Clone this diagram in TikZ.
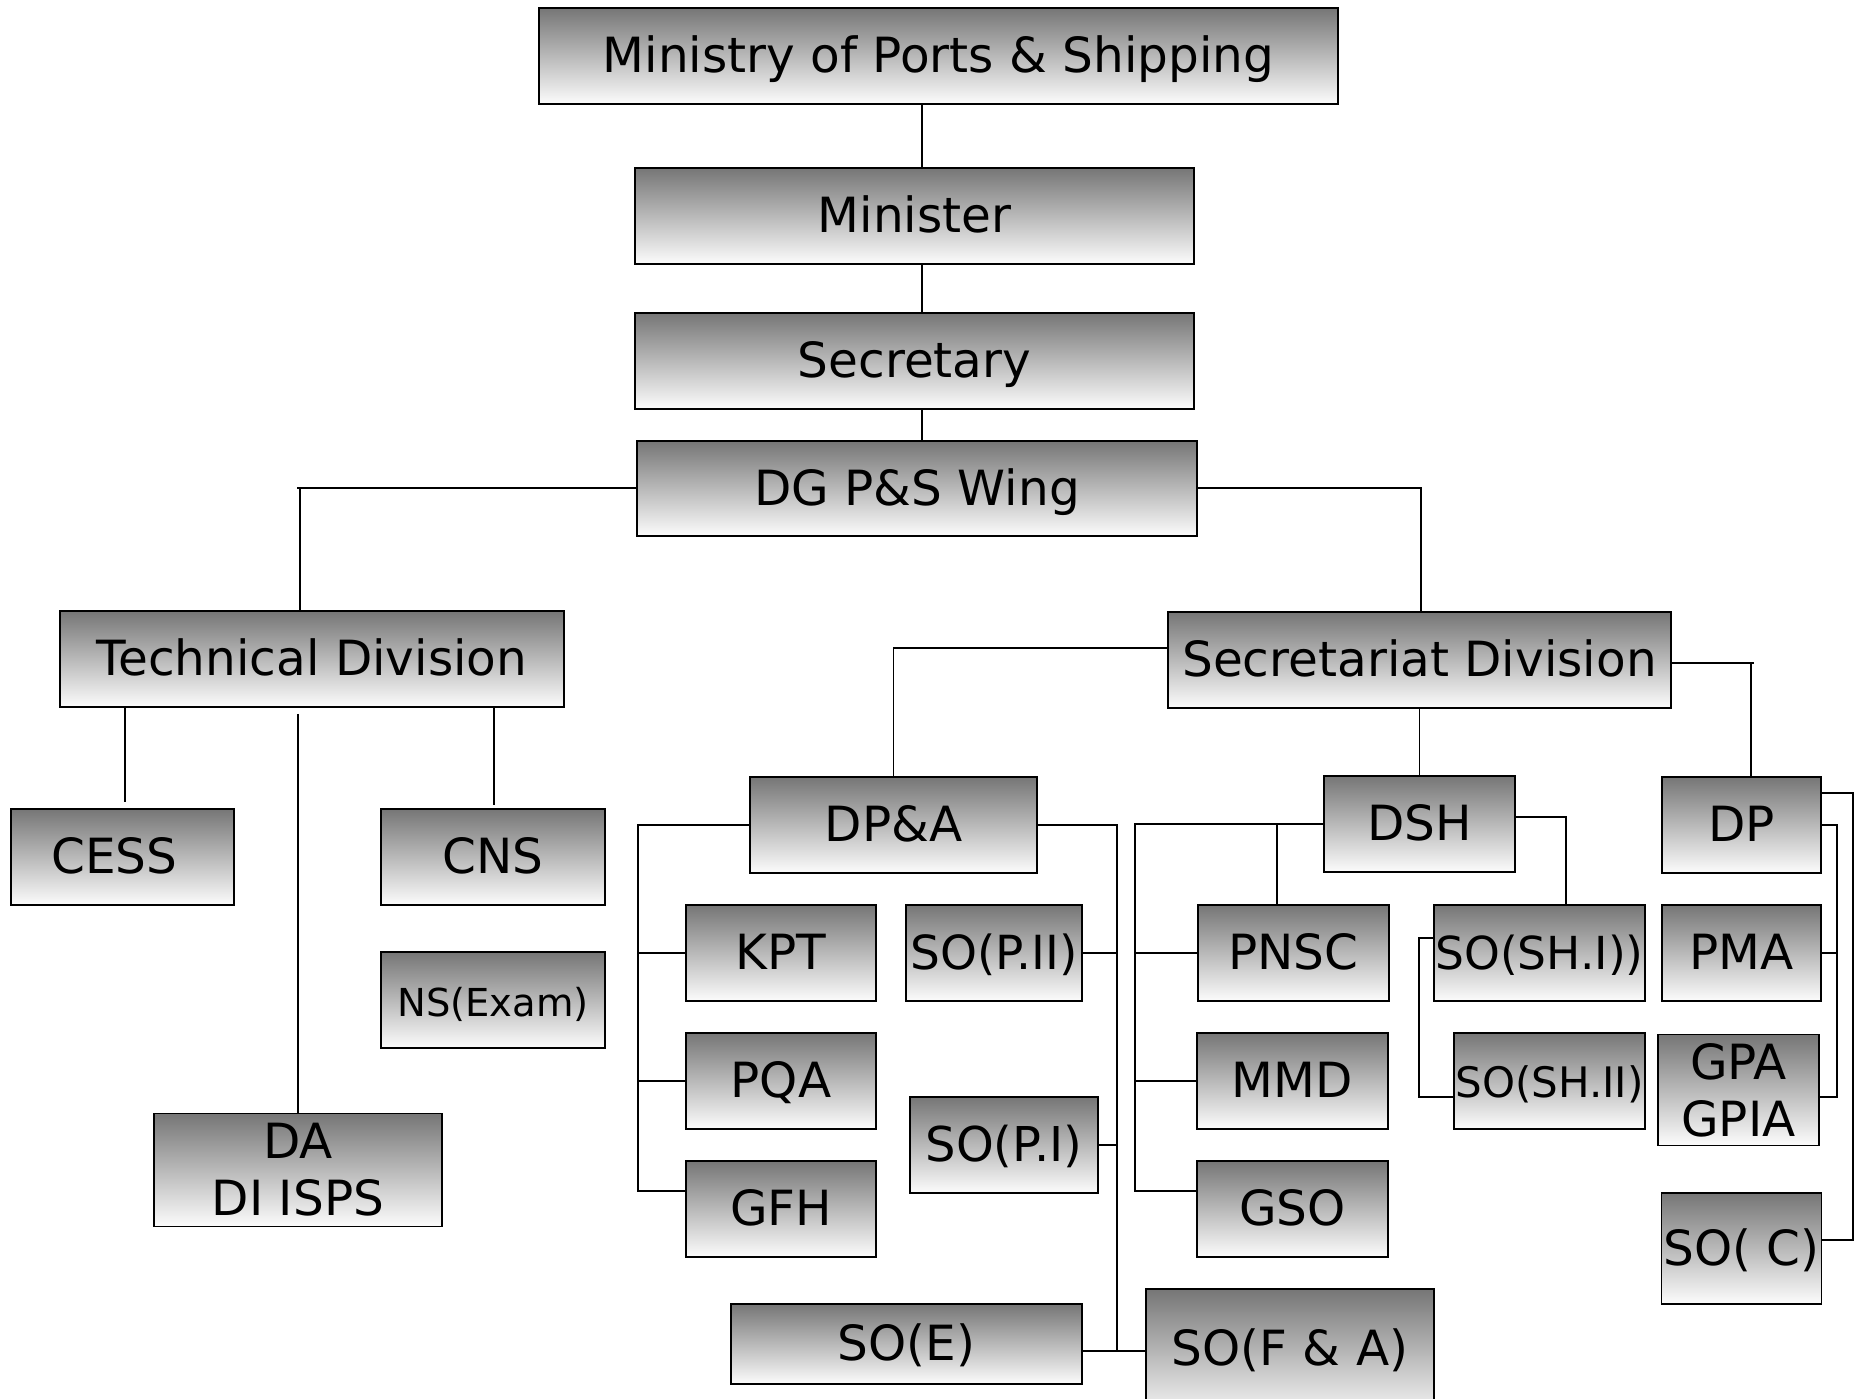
\documentclass[tikz,border=0pt]{standalone}
\usepackage{fontspec}
\setmainfont{DejaVu Sans}
\definecolor{gtop}{RGB}{118,118,118}
\definecolor{gbot}{RGB}{252,252,252}
\tikzset{
  boxbase/.style={draw=black, line width=1.7pt, top color=gtop, bottom color=gbot,
    minimum height=96pt, inner sep=2pt, align=center, text=black,
    font=\fontsize{48.5}{57}\selectfont},
  box/.style={boxbase, text height=33pt, text depth=-6pt},
  boxtwo/.style={boxbase},
  conn/.style={line width=1.7pt, draw=black},
}
\begin{document}
\begin{tikzpicture}[x=1pt,y=-1pt]
\clip (0,0) rectangle (1857,1399);
\fill[white] (0,0) rectangle (1857,1399);
% top chain
\node[box, minimum width=799pt] (ministry) at (938.5,56) {Ministry of Ports \& Shipping};
\node[box, minimum width=559pt] (minister) at (914.5,216) {Minister};
\node[box, minimum width=559pt] (secretary) at (914.5,361) {Secretary};
\node[box, minimum width=560pt, minimum height=95pt] (dg) at (917,488.5) {DG P\&S Wing};
% technical
\node[box, minimum width=504pt] (tech) at (312,659) {Technical Division};
\node[box, minimum width=223pt] (cess) at (122.5,857) {CESS\hspace*{16pt}};
\node[box, minimum width=224pt] (cns) at (493,857) {CNS};
\node[box, minimum width=224pt, font=\fontsize{38.5}{46}\selectfont] (nsexam) at (493,1000) {NS(Exam)};
\node[boxtwo, minimum width=288pt, minimum height=113pt] (da) at (298,1170) {DA\\DI ISPS};
% secretariat
\node[box, minimum width=503pt] (sec) at (1419.5,660) {Secretariat Division};
\node[box, minimum width=287pt] (dpa) at (893.5,825) {DP\&A};
\node[box, minimum width=190pt] (kpt) at (781,953) {KPT};
\node[box, minimum width=190pt] (pqa) at (781,1081) {PQA};
\node[box, minimum width=190pt] (gfh) at (781,1209) {GFH};
\node[box, minimum width=176pt, inner xsep=0pt, font=\fontsize{47}{55}\selectfont] (sopii) at (994,953) {SO(P.II)};
\node[box, minimum width=188pt, font=\fontsize{48}{56}\selectfont] (sopi) at (1004,1145) {SO(P.I)};
\node[box, minimum width=351pt, minimum height=80pt] (soe) at (906.5,1344) {SO(E)};
\node[box, minimum width=288pt, minimum height=131pt, text depth=11pt] (sofa) at (1290,1354.5) {SO(F \& A)};
\node[box, minimum width=191pt] (dsh) at (1419.5,824) {DSH};
\node[box, minimum width=191pt] (pnsc) at (1293.5,953) {PNSC};
\node[box, minimum width=191pt] (mmd) at (1292.5,1081) {MMD};
\node[box, minimum width=191pt] (gso) at (1292.5,1209) {GSO};
\node[box, minimum width=211pt, inner xsep=0pt, font=\fontsize{45.5}{53}\selectfont] (soshi) at (1539.5,953) {SO(SH.I))};
\node[box, minimum width=191pt, inner xsep=0pt, font=\fontsize{42}{50}\selectfont] (soshii) at (1549.5,1081) {SO(SH.II)};
\node[box, minimum width=159pt] (dp) at (1741.5,825) {DP};
\node[box, minimum width=159pt] (pma) at (1741.5,953) {PMA};
\node[boxtwo, minimum width=161pt, minimum height=111pt] (gpa) at (1738.5,1090) {GPA\\GPIA};
\node[box, minimum width=159pt, minimum height=111pt] (soc) at (1741.5,1248.5) {SO( C)};

% spine
\coordinate (spine) at (922,0);
\draw[conn] (ministry.south -| spine) -- (minister.north -| spine);
\draw[conn] (minister.south -| spine) -- (secretary.north -| spine);
\draw[conn] (secretary.south -| spine) -- (dg.north -| spine);
% DG to divisions
\coordinate (tl) at (300,488);
\draw[conn] (dg.west |- tl) -- ([xshift=-3pt]tl);
\draw[conn] (tl) -- (tl |- tech.north);
\coordinate (tr) at (1421,488);
\draw[conn] (dg.east |- tr) -- (tr) -- (tr |- sec.north);
% technical children
\coordinate (xcess) at (125,0);
\coordinate (xda) at (298,0);
\coordinate (xcns) at (494,0);
\draw[conn, shorten >=6pt] (tech.south -| xcess) -- (cess.north -| xcess);
\draw[conn, shorten <=6pt] (tech.south -| xda) -- (da.north -| xda);
\draw[conn, shorten >=3pt] (tech.south -| xcns) -- (cns.north -| xcns);
% secretariat children
\coordinate (sl) at (0,648);
\draw[conn] (sec.west |- sl) -| (dpa.north);
\coordinate (sr) at (1751,663);
\draw[conn] (sec.east |- sr) -- ([xshift=3pt]sr);
\draw[conn] (sr) -- (sr |- dp.north);
\draw[conn] (sec.south -| dsh.north) -- (dsh.north);
% DP&A left
\coordinate (pl) at (638,0);
\coordinate (ygfh) at (0,1191);
\draw[conn] (dpa.west) -| (pl |- ygfh) -- (gfh.west |- ygfh);
\draw[conn] (pl |- kpt.west) -- (kpt.west);
\draw[conn] (pl |- pqa.west) -- (pqa.west);
% DP&A right
\coordinate (pr) at (1117,0);
\coordinate (ye) at (0,1351);
\draw[conn] (dpa.east) -| (pr |- ye);
\draw[conn] (sopii.east) -- (pr |- sopii.east);
\draw[conn] (sopi.east) -- (pr |- sopi.east);
\draw[conn] (soe.east |- ye) -- (sofa.west |- ye);
% DSH left
\coordinate (dl) at (1135,0);
\draw[conn] (dsh.west) -| (dl |- ygfh) -- (gso.west |- ygfh);
\draw[conn] (dl |- pnsc.west) -- (pnsc.west);
\draw[conn] (dl |- mmd.west) -- (mmd.west);
\coordinate (xp) at (1277,0);
\draw[conn] (xp |- dsh.west) -- (xp |- pnsc.north);
% DSH right
\coordinate (dr) at (1566,817);
\draw[conn] (dsh.east |- dr) -| (dr |- soshi.north);
% SO(SH.I) to SO(SH.II)
\coordinate (shl) at (1419,938);
\coordinate (y2) at (0,1097);
\draw[conn] (soshi.west |- shl) -- (shl) |- (soshii.west |- y2);
% DP right
\coordinate (do) at (1853,793);
\coordinate (yc) at (0,1240);
\draw[conn] (dp.east |- do) -- (do) |- (soc.east |- yc);
\coordinate (di) at (1837,825);
\draw[conn] (dp.east |- di) -- (di) |- (gpa.east |- y2);
\draw[conn] (pma.east) -- (di |- pma.east);
\end{tikzpicture}
\end{document}
